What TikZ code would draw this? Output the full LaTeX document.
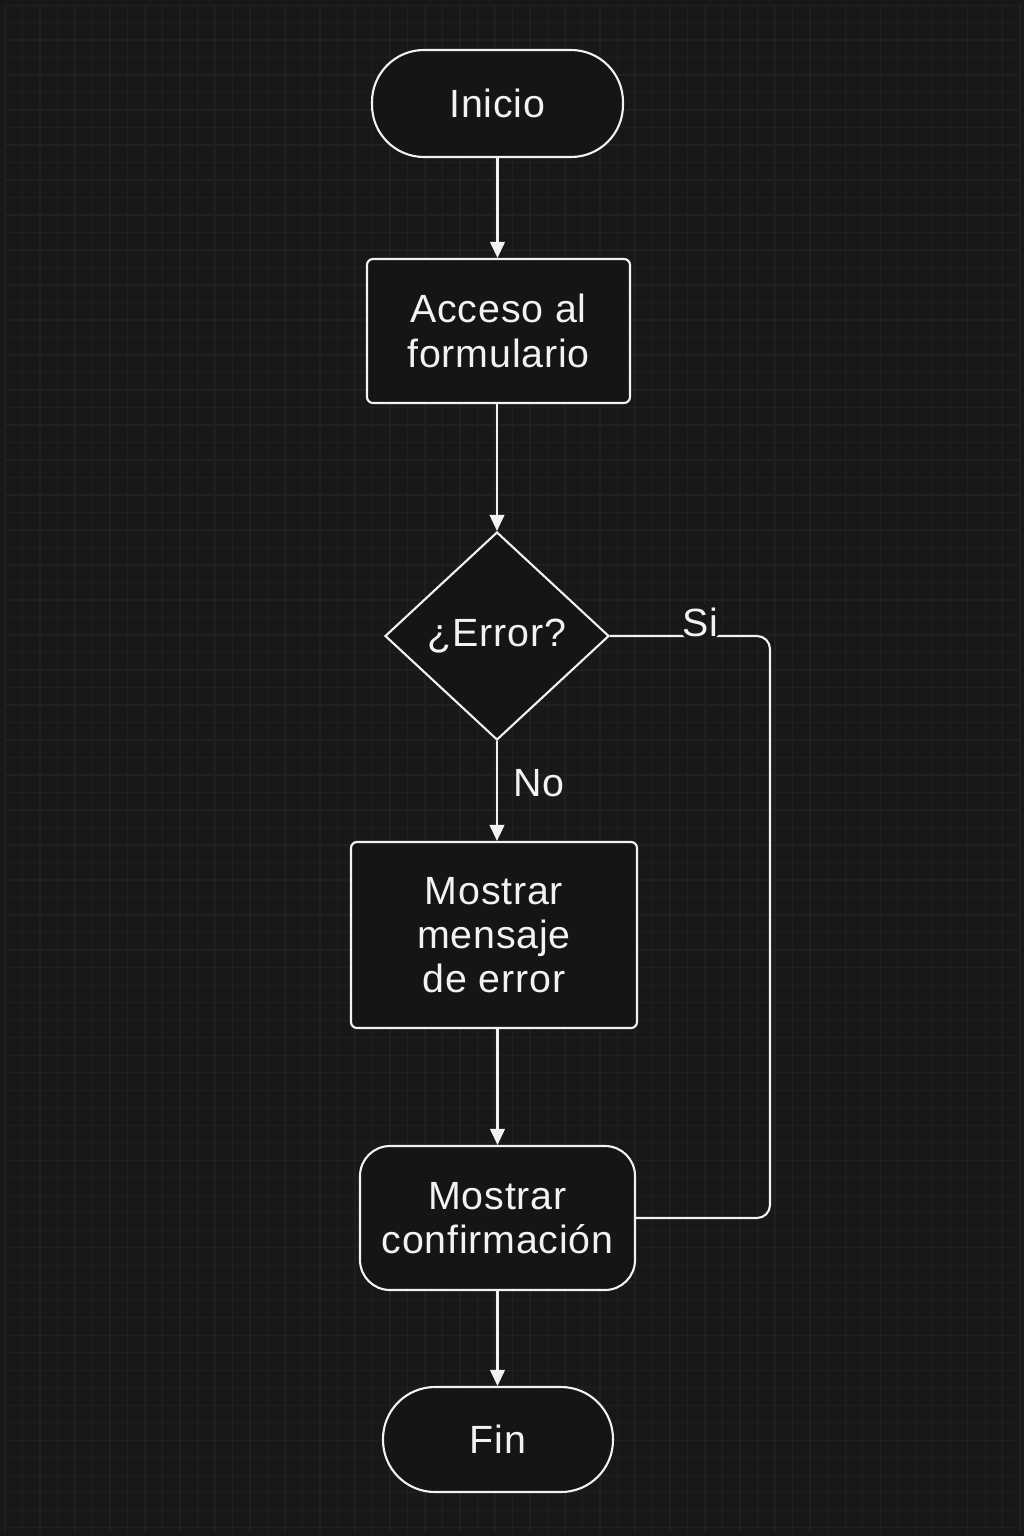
\documentclass[tikz,border=0pt]{standalone}
\usepackage{fontspec}
\setmainfont{Liberation Sans}[LetterSpace=2]
\usetikzlibrary{shapes.geometric,arrows.meta}
\definecolor{fondo}{HTML}{181818}
\definecolor{rejilla}{HTML}{202020}
\definecolor{caja}{HTML}{151515}
\definecolor{trazo}{HTML}{F2F2F2}

\begin{document}
\begin{tikzpicture}[
    font=\fontsize{11.2}{12.6}\selectfont,
    paso/.style={draw=trazo, fill=caja, text=trazo, line width=0.6pt, align=center, inner sep=2pt},
    terminal/.style={paso, rounded corners=0.52cm},
    proceso/.style={paso, rounded corners=0.06cm},
    decision/.style={paso, diamond, inner sep=1pt},
    flecha/.style={draw=trazo, line width=0.6pt, -{Triangle[length=4.6pt,width=4.2pt]}},
    enlace/.style={draw=trazo, line width=0.6pt, rounded corners=0.13cm},
    rotulo/.style={text=trazo, fill=fondo, inner xsep=0.8pt, inner ysep=1pt}
  ]
    \fill[fondo] (0,0) rectangle (10.24,-15.36);
    \draw[rejilla, line width=0.3pt, step=0.175cm, shift={(0.05,-0.05)}] (0,0) grid (10.15,-15.27);
    \useasboundingbox (0,0) rectangle (10.24,-15.36);

    \node[terminal, minimum width=2.51cm, minimum height=1.07cm] (inicio) at (4.975,-1.035) {Inicio};
    \node[proceso, minimum width=2.63cm, minimum height=1.44cm] (acceso) at (4.985,-3.31) {Acceso al\\formulario};
    \node[decision, minimum width=2.24cm, minimum height=2.08cm] (error) at (4.97,-6.36) {¿Error?};
    \node[proceso, minimum width=2.86cm, minimum height=1.86cm] (mensaje) at (4.94,-9.35) {Mostrar\\mensaje\\de error};
    \node[paso, rounded corners=0.3cm, minimum width=2.75cm, minimum height=1.44cm] (confirma) at (4.975,-12.18) {Mostrar\\confirmación};
    \node[terminal, minimum width=2.30cm, minimum height=1.05cm] (fin) at (4.98,-14.395) {Fin};
    \coordinate (codo) at (7.70,-6.36);

    \draw[flecha] (inicio.south) -- (inicio.south |- acceso.north);
    \draw[flecha] (error.north |- acceso.south) -- (error.north);
    \draw[flecha] (error.south) -- node[pos=0.42, right, xshift=1pt, text=trazo] {No} (error.south |- mensaje.north);
    \draw[flecha] (confirma.north |- mensaje.south) -- (confirma.north);
    \draw[flecha] (confirma.south) -- (confirma.south |- fin.north);
    \draw[enlace] (error.east) -- node[rotulo, pos=0.565, anchor=base] {Si} (codo) |- (confirma.east);
\end{tikzpicture}
\end{document}
